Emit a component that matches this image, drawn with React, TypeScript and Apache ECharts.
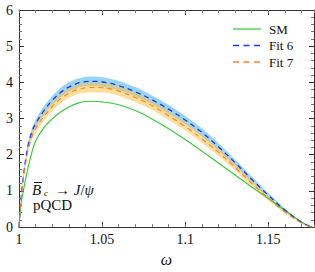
import React, { useEffect, useRef } from "react";
import * as echarts from "echarts";

const omega = [1, 1.001, 1.0025, 1.005, 1.0075, 1.01, 1.015, 1.02, 1.025, 1.03, 1.035, 1.04, 1.045, 1.05, 1.055, 1.06, 1.07, 1.08, 1.09, 1.1, 1.11, 1.12, 1.13, 1.14, 1.15, 1.16, 1.17, 1.174, 1.1765];

const smValues = [0, 0.55, 0.98, 1.55, 2.02, 2.38, 2.75, 2.99, 3.18, 3.32, 3.42, 3.47, 3.48, 3.46, 3.43, 3.38, 3.22, 2.99, 2.72, 2.42, 2.1, 1.77, 1.44, 1.11, 0.79, 0.46, 0.14, 0.04, 0];

const fit6Values = [0, 0.66, 1.35, 2.15, 2.6, 2.86, 3.22, 3.5, 3.72, 3.87, 3.97, 4.02, 4.03, 4.01, 3.97, 3.91, 3.74, 3.52, 3.26, 2.96, 2.62, 2.22, 1.78, 1.32, 0.88, 0.47, 0.13, 0.04, 0];
const fit6Upper = [0, 0.69, 1.41, 2.24, 2.7, 2.97, 3.34, 3.62, 3.85, 4.0, 4.1, 4.15, 4.16, 4.14, 4.1, 4.04, 3.87, 3.64, 3.38, 3.07, 2.73, 2.32, 1.87, 1.4, 0.94, 0.51, 0.15, 0.05, 0];
const fit6Lower = [0, 0.63, 1.29, 2.06, 2.5, 2.75, 3.1, 3.38, 3.59, 3.74, 3.84, 3.89, 3.9, 3.88, 3.84, 3.78, 3.61, 3.4, 3.14, 2.85, 2.51, 2.12, 1.69, 1.24, 0.82, 0.43, 0.11, 0.03, 0];

const fit7Values = [0, 0.62, 1.27, 2.03, 2.47, 2.72, 3.06, 3.33, 3.55, 3.7, 3.8, 3.85, 3.86, 3.85, 3.82, 3.76, 3.58, 3.36, 3.08, 2.78, 2.44, 2.07, 1.65, 1.21, 0.8, 0.42, 0.11, 0.03, 0];
const fit7Upper = [0, 0.65, 1.33, 2.12, 2.57, 2.83, 3.18, 3.45, 3.68, 3.83, 3.93, 3.98, 3.99, 3.98, 3.95, 3.89, 3.71, 3.48, 3.2, 2.89, 2.55, 2.17, 1.74, 1.29, 0.86, 0.46, 0.13, 0.04, 0];
const fit7Lower = [0, 0.59, 1.21, 1.94, 2.37, 2.61, 2.94, 3.21, 3.42, 3.57, 3.67, 3.72, 3.73, 3.72, 3.69, 3.63, 3.45, 3.24, 2.96, 2.67, 2.33, 1.97, 1.56, 1.13, 0.74, 0.38, 0.09, 0.02, 0];

const seriesNames = ["SM", "Fit 6", "Fit 7"];
const X_MIN = 1;
const X_MAX = 1.1775;

const FONT = "'Liberation Serif', 'Times New Roman', serif";
const AXIS_COLOR = "#333";
const SM_COLOR = "#33cc33";
const FIT6_COLOR = "#2233ff";
const FIT7_COLOR = "#ff7f2a";

const pairs = (ys: number[]) => omega.map((x, i) => [x, ys[i]]);

function bandSeries(lo: number[], hi: number[], color: string, opacity: number) {
  return {
    type: "custom",
    coordinateSystem: "cartesian2d",
    data: [[omega[0], 0]],
    silent: true,
    clip: true,
    z: 1,
    renderItem: (_params: any, api: any) => {
      const pts: number[][] = [];
      for (let i = 0; i < omega.length; i++) pts.push(api.coord([omega[i], hi[i]]));
      for (let i = omega.length - 2; i >= 1; i--) pts.push(api.coord([omega[i], lo[i]]));
      return {
        type: "polygon",
        shape: { points: pts, smooth: 0.25 },
        style: { fill: color, opacity },
      };
    },
  };
}

function curve(name: string, ys: number[], color: string, width: number, dash: any) {
  return {
    name,
    type: "line",
    data: pairs(ys),
    symbol: "none",
    smooth: 0.35,
    lineStyle: { color, width, type: dash },
    itemStyle: { color },
    z: 3,
  };
}

export default function App() {
  const ref = useRef<HTMLDivElement>(null);
  useEffect(() => {
    if (!ref.current) return;
    const chart = echarts.init(ref.current, null, { renderer: "svg" });
    const labelStyle = { fontFamily: FONT, fontSize: 14, color: "#111" };
    const legendColors = [SM_COLOR, FIT6_COLOR, FIT7_COLOR];
    const legendRowsY = [29, 45.5, 62];
    const legendGraphics: any[] = [];
    seriesNames.forEach((name, i) => {
      legendGraphics.push({
        type: "line",
        shape: { x1: 233, y1: legendRowsY[i], x2: 261, y2: legendRowsY[i] },
        style: { stroke: legendColors[i], lineWidth: i === 0 ? 1.2 : 1.3, lineDash: i === 0 ? null : [6, 4.5] },
        z: 10,
      });
      legendGraphics.push({
        type: "text",
        x: 269,
        y: legendRowsY[i],
        style: { text: name, fontFamily: FONT, fontSize: 13, lineHeight: 13, fill: "#111", verticalAlign: "middle", align: "left" },
        z: 10,
      });
    });
    const option: any = {
      animation: false,
      backgroundColor: "#fff",
      grid: { left: 19, right: 1, top: 10, bottom: 41, containLabel: false },
      xAxis: [
        {
          type: "value",
          min: X_MIN,
          max: X_MAX,
          interval: 0.05,
          position: "bottom",
          name: "ω",
          nameLocation: "middle",
          nameGap: 22,
          nameTextStyle: { fontFamily: FONT, fontSize: 16, fontStyle: "italic", color: "#111" },
          axisLine: { show: true, lineStyle: { color: AXIS_COLOR, width: 1 } },
          axisTick: { show: true, inside: true, length: 5, lineStyle: { color: AXIS_COLOR } },
          axisLabel: { ...labelStyle, margin: 5, showMaxLabel: false },
          splitLine: { show: false },
        },
        {
          type: "value",
          min: X_MIN,
          max: X_MAX,
          interval: 0.01,
          position: "bottom",
          axisLine: { show: false },
          axisTick: { show: true, inside: true, length: 3, lineStyle: { color: "#777" } },
          axisLabel: { show: false },
          splitLine: { show: false },
        },
        {
          type: "value",
          min: X_MIN,
          max: X_MAX,
          interval: 0.05,
          position: "top",
          axisLine: { show: true, lineStyle: { color: AXIS_COLOR, width: 1 } },
          axisTick: { show: true, inside: true, length: 5, lineStyle: { color: AXIS_COLOR } },
          axisLabel: { show: false },
          splitLine: { show: false },
        },
        {
          type: "value",
          min: X_MIN,
          max: X_MAX,
          interval: 0.01,
          position: "top",
          axisLine: { show: false },
          axisTick: { show: true, inside: true, length: 3, lineStyle: { color: "#777" } },
          axisLabel: { show: false },
          splitLine: { show: false },
        },
      ],
      yAxis: [
        {
          type: "value",
          min: 0,
          max: 6,
          interval: 1,
          position: "left",
          axisLine: { show: true, lineStyle: { color: AXIS_COLOR, width: 1 } },
          axisTick: { show: true, inside: true, length: 5, lineStyle: { color: AXIS_COLOR } },
          minorTick: { show: true, splitNumber: 5, length: 3, lineStyle: { color: "#777" } },
          axisLabel: { ...labelStyle, margin: 6 },
          splitLine: { show: false },
        },
        {
          type: "value",
          min: 0,
          max: 6,
          interval: 1,
          position: "right",
          axisLine: { show: true, lineStyle: { color: AXIS_COLOR, width: 1 } },
          axisTick: { show: true, inside: true, length: 5, lineStyle: { color: AXIS_COLOR } },
          minorTick: { show: true, splitNumber: 5, length: 3, lineStyle: { color: "#777" } },
          axisLabel: { show: false },
          splitLine: { show: false },
        },
      ],
      series: [
        bandSeries(fit6Lower, fit6Upper, "rgb(140,208,242)", 0.9),
        bandSeries(fit7Lower, fit7Upper, "rgb(255,195,70)", 0.55),
        curve("SM", smValues, SM_COLOR, 1.1, "solid"),
        curve("Fit 6", fit6Values, FIT6_COLOR, 1.3, [5, 4]),
        curve("Fit 7", fit7Values, FIT7_COLOR, 1.1, [5, 4]),
      ],
      graphic: [
        ...legendGraphics,
        {
          type: "text",
          x: 32,
          y: 190,
          style: { text: "B", fontFamily: FONT, fontSize: 15, lineHeight: 12, fontStyle: "italic", fill: "#111", verticalAlign: "middle", align: "left" },
          z: 10,
        },
        {
          type: "line",
          shape: { x1: 34, y1: 182.5, x2: 42, y2: 182.5 },
          style: { stroke: "#111", lineWidth: 1 },
          z: 10,
        },
        {
          type: "text",
          x: 44,
          y: 193,
          style: { text: "c", fontFamily: FONT, fontSize: 9, lineHeight: 8, fontStyle: "italic", fill: "#111", verticalAlign: "middle", align: "left" },
          z: 10,
        },
        {
          type: "text",
          x: 55,
          y: 190,
          style: {
            text: "→ {i|J}/{i|ψ}",
            fontFamily: FONT,
            fontSize: 15,
            lineHeight: 12,
            fill: "#111",
            verticalAlign: "middle",
            align: "left",
            rich: { i: { fontFamily: FONT, fontSize: 15, lineHeight: 12, fontStyle: "italic", fill: "#111" } },
          },
          z: 10,
        },
        {
          type: "text",
          x: 33,
          y: 205,
          style: { text: "pQCD", fontFamily: FONT, fontSize: 15, lineHeight: 12, fill: "#111", verticalAlign: "middle", align: "left" },
          z: 10,
        },
      ],
    };
    chart.setOption(option);
    return () => chart.dispose();
  }, []);
  return <div ref={ref} style={{ position: "fixed", left: 0, top: 0, width: 315, height: 272 }} />;
}
